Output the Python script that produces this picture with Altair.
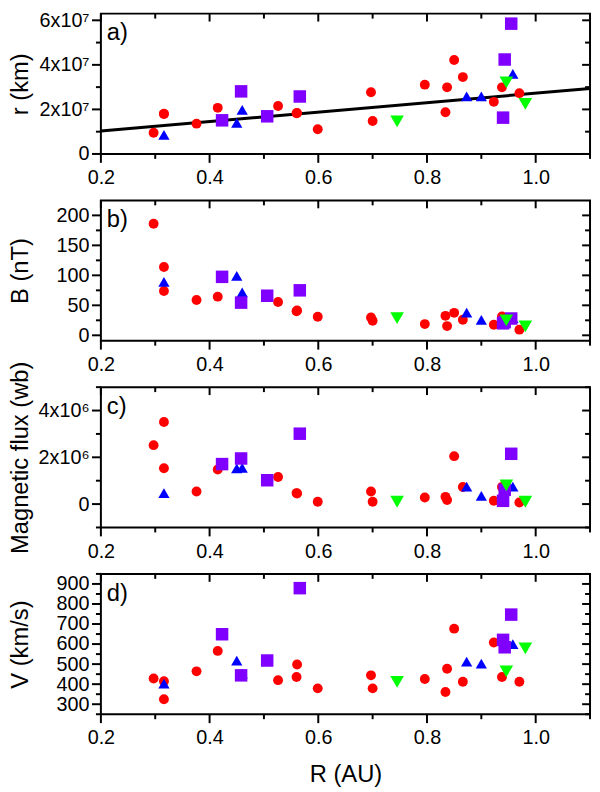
import altair as alt
import pandas as pd

# red circles
red_R = [0.297, 0.316, 0.316, 0.376, 0.415, 0.526, 0.561, 0.560, 0.599, 0.697,
         0.700, 0.796, 0.837, 0.834, 0.850, 0.866, 0.923, 0.938, 0.970]
red_r = [0.95e7, 1.81e7, 1.79e7, 1.36e7, 2.07e7, 2.15e7, 1.84e7, 1.83e7, 1.11e7, 2.77e7,
         1.48e7, 3.11e7, 2.99e7, 1.87e7, 4.22e7, 3.45e7, 2.34e7, 2.99e7, 2.73e7]
red_B = [186, 114, 74, 59, 64.5, 55.6, 41.3, 40, 30.9, 29.8,
         24.2, 18.7, 15.4, 32.5, 37.5, 25.9, 17.6, 31.4, 9.4]
red_flux = [2.52e6, 3.51e6, 1.53e6, 0.54e6, 1.48e6, 1.16e6, 0.45e6, 0.47e6, 0.10e6, 0.54e6,
            0.10e6, 0.28e6, 0.17e6, 0.31e6, 2.05e6, 0.73e6, 0.14e6, 0.73e6, 0.07e6]
red_V = [428, 415, 325, 464, 566, 420, 498, 436, 379, 444,
         379, 426, 477, 361, 677, 412, 608, 436, 412]

# blue triangles
blue_R = [0.316, 0.450, 0.460, 0.873, 0.900, 0.958]
blue_r = [0.86e7, 1.40e7, 1.98e7, 2.58e7, 2.58e7, 3.59e7]
blue_B = [89, 99, 71.6, 38, 25.9, 28.6]
blue_flux = [0.47e6, 1.53e6, 1.55e6, 0.75e6, 0.35e6, 0.75e6]
blue_V = [403, 518, 452, 513, 502, 600]

# purple squares
purple_R = [0.423, 0.458, 0.506, 0.566, 0.943, 0.955, 0.940]
purple_r = [1.51e7, 2.81e7, 1.69e7, 2.58e7, 4.24e7, 5.85e7, 1.63e7]
purple_B = [97.5, 54.5, 66, 75, 22, 28, 20]
purple_flux = [1.71e6, 1.95e6, 1.02e6, 3.01e6, 0.61e6, 2.15e6, 0.14e6]
purple_V = [649, 444, 518, 879, 584, 747, 621]

# green inverted triangles
green_R = [0.745, 0.946, 0.981]
green_r = [1.46e7, 3.21e7, 2.25e7]
green_B = [28.6, 25, 14.9]
green_flux = [0.10e6, 0.80e6, 0.10e6]
green_V = [411, 464, 579]

# linear fit in panel a
fit_R = [0.2, 1.1]
fit_r = [1.03e7, 2.94e7]

groups = ["red", "blue", "purple", "green"]
colors = ["#FF0000", "#0000FF", "#8000FF", "#00FF00"]
shapes = ["circle", "triangle-up", "square", "triangle-down"]
sizes = [100, 190, 100, 190]
tags = ["a)", "b)", "c)", "d)"]

rows = []
for g, Rs, rs, Bs, Fs, Vs in [
    ("red", red_R, red_r, red_B, red_flux, red_V),
    ("blue", blue_R, blue_r, blue_B, blue_flux, blue_V),
    ("purple", purple_R, purple_r, purple_B, purple_flux, purple_V),
    ("green", green_R, green_r, green_B, green_flux, green_V),
]:
    for i in range(len(Rs)):
        rows.append({"group": g, "R": Rs[i], "r": rs[i], "B": Bs[i],
                     "flux": Fs[i], "V": Vs[i]})
df = pd.DataFrame(rows)
fit = pd.DataFrame({"R": fit_R, "r": fit_r})

W, H = 495, 142
FONT = "Liberation Sans"
x_major = [0.2, 0.4, 0.6, 0.8, 1.0]
x_minor = [0.3, 0.5, 0.7, 0.9, 1.1]
x_scale = alt.Scale(domain=[0.2, 1.1], nice=False, zero=False)


def x_ticks(values, y0, y1):
    return alt.Chart(pd.DataFrame({"v": values})).mark_rule(
        color="black", strokeWidth=2).encode(
        x=alt.X("v:Q", scale=x_scale, axis=None), y=alt.value(y0), y2=alt.value(y1))


def y_ticks(values, y_scale, x0, x1):
    return alt.Chart(pd.DataFrame({"v": values})).mark_rule(
        color="black", strokeWidth=2).encode(
        y=alt.Y("v:Q", scale=y_scale, axis=None), x=alt.value(x0), x2=alt.value(x1))


def panel(col, domain, major, minor, title, tag, label_expr=None, x_title="", line=False):
    y_scale = alt.Scale(domain=domain, nice=False, zero=False)
    y_opts = dict(orient="left", values=major, tickSize=9, tickOpacity=0,
                  domain=False, grid=False, labelFontSize=20,
                  labelFont=FONT, labelPadding=3, labelOverlap=False,
                  labelFlush=False, labelColor="black", title=title,
                  titleFontSize=24, titleFont=FONT, titleFontWeight="normal",
                  titleColor="black", titleX=-74, titleY=H / 2, titleAngle=270,
                  titleAlign="center", titleBaseline="alphabetic")
    if label_expr:
        y_opts["labelExpr"] = label_expr
    x_axis = alt.Axis(orient="bottom", values=x_major, format=".1f", tickSize=9,
                      tickOpacity=0, domain=False, grid=False,
                      labelFontSize=20, labelFont=FONT, labelPadding=5,
                      labelFlush=False, labelOverlap=False, labelColor="black",
                      title=x_title, titleFontSize=24, titleFont=FONT,
                      titleFontWeight="normal", titleColor="black", titlePadding=15)

    layers = [
        # outward ticks on left/bottom, inward ticks on top/right
        x_ticks(x_major, H, H + 9), x_ticks(x_minor, H, H + 5),
        x_ticks(x_major, 0, 8), x_ticks(x_minor, 0, 5),
        y_ticks(major, y_scale, -9, 0), y_ticks(minor, y_scale, -5, 0),
        y_ticks(major, y_scale, W - 8, W), y_ticks(minor, y_scale, W - 5, W),
    ]
    if line:
        layers.append(alt.Chart(fit).mark_line(color="black", strokeWidth=3, clip=True).encode(
            x=alt.X("R:Q", scale=x_scale, axis=None),
            y=alt.Y("r:Q", scale=y_scale, axis=None),
        ))
    layers.append(alt.Chart(df).mark_point(filled=True, opacity=1).encode(
        x=alt.X("R:Q", scale=x_scale, axis=x_axis),
        y=alt.Y(f"{col}:Q", scale=y_scale, axis=alt.Axis(**y_opts)),
        color=alt.Color("group:N", scale=alt.Scale(domain=groups, range=colors), legend=None),
        shape=alt.Shape("group:N", scale=alt.Scale(domain=groups, range=shapes), legend=None),
        size=alt.Size("group:N", scale=alt.Scale(domain=groups, range=sizes), legend=None),
    ))
    layers.append(alt.Chart(pd.DataFrame({"tag": [tag]})).mark_text(
        align="left", baseline="middle", fontSize=24, font=FONT, color="black"
    ).encode(text="tag:N", x=alt.value(6), y=alt.value(20)))

    return alt.layer(*layers).resolve_axis(x="independent", y="independent").properties(
        width=W, height=H)


pa = panel("r", [0, 6.3e7], [0, 2e7, 4e7, 6e7], [1e7, 3e7, 5e7], "r (km)", tags[0],
           label_expr="datum.value == 0 ? '0' : format(datum.value / 1e7, 'd') + 'x10\u2077'",
           line=True)
pb = panel("B", [-9, 225], [0, 50, 100, 150, 200], [25, 75, 125, 175], "B (nT)", tags[1])
pc = panel("flux", [-1e6, 5e6], [0, 2e6, 4e6], [-1e6, 1e6, 3e6, 5e6], "Magnetic flux (wb)", tags[2],
           label_expr="datum.value == 0 ? '0' : format(datum.value / 1e6, 'd') + 'x10\u2076'")
pd_ = panel("V", [250, 950], [300, 400, 500, 600, 700, 800, 900],
            [250, 350, 450, 550, 650, 750, 850, 950], "V (km/s)", tags[3], x_title="R (AU)")

chart = alt.vconcat(pa, pb, pc, pd_, spacing=47, bounds="flush").properties(
    padding={"top": -4, "left": 0, "right": 0, "bottom": 0}
).configure_view(
    stroke="black", strokeWidth=2
)

chart.save("out.html", embed_options={"renderer": "svg", "actions": False})
